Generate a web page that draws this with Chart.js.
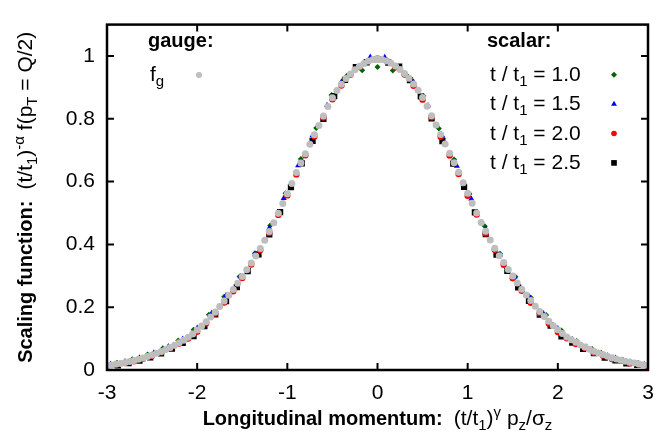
<!DOCTYPE html>
<html>
<head>
<meta charset="utf-8">
<script src="https://cdn.jsdelivr.net/npm/chart.js@4/dist/chart.umd.min.js"></script>
<style>
  html, body { margin: 0; padding: 0; background: #fff; }
  canvas { display: block; }
</style>
</head>
<body>
<canvas id="scalingChart" width="671" height="437"></canvas>
<script>
// --- Data ---
const xTicks = [-3, -2, -1, 0, 1, 2, 3];
const yTicks = [0, 0.2, 0.4, 0.6, 0.8, 1];

// gauge: f_g
const gaugeX = [-3.00, -2.95, -2.90, -2.85, -2.80, -2.75, -2.70, -2.65, -2.60, -2.55, -2.50, -2.45, -2.40, -2.35, -2.30, -2.25, -2.20, -2.15, -2.10, -2.05,
  -2.00, -1.95, -1.90, -1.85, -1.80, -1.75, -1.70, -1.65, -1.60, -1.55, -1.50, -1.45, -1.40, -1.35, -1.30, -1.25, -1.20, -1.15, -1.10, -1.05,
  -1.00, -0.95, -0.90, -0.85, -0.80, -0.75, -0.70, -0.65, -0.60, -0.55, -0.50, -0.45, -0.40, -0.35, -0.30, -0.25, -0.20, -0.15, -0.10, -0.05,
  0.00, 0.05, 0.10, 0.15, 0.20, 0.25, 0.30, 0.35, 0.40, 0.45, 0.50, 0.55, 0.60, 0.65, 0.70, 0.75, 0.80, 0.85, 0.90, 0.95,
  1.00, 1.05, 1.10, 1.15, 1.20, 1.25, 1.30, 1.35, 1.40, 1.45, 1.50, 1.55, 1.60, 1.65, 1.70, 1.75, 1.80, 1.85, 1.90, 1.95,
  2.00, 2.05, 2.10, 2.15, 2.20, 2.25, 2.30, 2.35, 2.40, 2.45, 2.50, 2.55, 2.60, 2.65, 2.70, 2.75, 2.80, 2.85, 2.90, 2.95, 3.00];
const gaugeY = [0.014, 0.016, 0.019, 0.021, 0.024, 0.027, 0.030, 0.034, 0.038, 0.043, 0.048, 0.053, 0.059, 0.065, 0.072, 0.079, 0.087, 0.095, 0.104, 0.115,
  0.127, 0.140, 0.154, 0.169, 0.185, 0.202, 0.220, 0.238, 0.256, 0.276, 0.298, 0.319, 0.341, 0.363, 0.387, 0.413, 0.441, 0.469, 0.499, 0.530,
  0.561, 0.594, 0.629, 0.659, 0.689, 0.719, 0.749, 0.779, 0.809, 0.839, 0.867, 0.890, 0.910, 0.928, 0.943, 0.956, 0.967, 0.976, 0.984, 0.989,
  0.991, 0.989, 0.984, 0.977, 0.968, 0.957, 0.944, 0.929, 0.911, 0.891, 0.868, 0.840, 0.810, 0.780, 0.750, 0.720, 0.690, 0.660, 0.630, 0.596,
  0.563, 0.531, 0.500, 0.470, 0.442, 0.414, 0.388, 0.364, 0.342, 0.320, 0.299, 0.277, 0.257, 0.239, 0.221, 0.203, 0.186, 0.170, 0.155, 0.141,
  0.128, 0.116, 0.105, 0.096, 0.088, 0.080, 0.073, 0.066, 0.060, 0.054, 0.049, 0.044, 0.039, 0.035, 0.031, 0.028, 0.025, 0.022, 0.019, 0.017, 0.015];

// scalar: t / t1 = 1.0
const s10X = [-2.89, -2.72, -2.55, -2.38, -2.21, -2.04, -1.87, -1.70, -1.53, -1.36, -1.19, -1.02, -0.85, -0.68, -0.51, -0.34, -0.17, 0,
  0.17, 0.34, 0.51, 0.68, 0.85, 1.02, 1.19, 1.36, 1.53, 1.70, 1.87, 2.04, 2.21, 2.38, 2.55, 2.72, 2.89];
const s10Y = [0.023, 0.034, 0.049, 0.069, 0.094, 0.128, 0.176, 0.233, 0.298, 0.372, 0.460, 0.563, 0.672, 0.771, 0.876, 0.936, 0.955, 0.965,
  0.954, 0.934, 0.873, 0.769, 0.670, 0.561, 0.458, 0.370, 0.297, 0.231, 0.175, 0.126, 0.092, 0.067, 0.047, 0.033, 0.022];

// scalar: t / t1 = 1.5
const s15X = [-2.96, -2.80, -2.64, -2.48, -2.32, -2.16, -2.00, -1.84, -1.68, -1.52, -1.36, -1.20, -1.04, -0.88, -0.72, -0.56, -0.40, -0.24, -0.08,
  0.08, 0.24, 0.40, 0.56, 0.72, 0.88, 1.04, 1.20, 1.36, 1.52, 1.68, 1.84, 2.00, 2.16, 2.32, 2.48, 2.64, 2.80, 2.96];
const s15Y = [0.019, 0.027, 0.039, 0.055, 0.075, 0.099, 0.134, 0.181, 0.237, 0.298, 0.368, 0.452, 0.547, 0.651, 0.747, 0.843, 0.918, 0.963, 0.997,
  0.996, 0.961, 0.917, 0.842, 0.745, 0.650, 0.545, 0.450, 0.367, 0.297, 0.235, 0.180, 0.132, 0.098, 0.073, 0.054, 0.038, 0.026, 0.018];

// scalar: t / t1 = 2.0
const s20X = [-3.0, -2.9, -2.8, -2.7, -2.6, -2.5, -2.4, -2.3, -2.2, -2.1, -2.0, -1.9, -1.8, -1.7, -1.6, -1.5, -1.4, -1.3, -1.2, -1.1,
  -1.0, -0.9, -0.8, -0.7, -0.6, -0.5, -0.4, -0.3, -0.2, -0.1, 0, 0.1, 0.2, 0.3, 0.4, 0.5, 0.6, 0.7, 0.8, 0.9,
  1.0, 1.1, 1.2, 1.3, 1.4, 1.5, 1.6, 1.7, 1.8, 1.9, 2.0, 2.1, 2.2, 2.3, 2.4, 2.5, 2.6, 2.7, 2.8, 2.9, 3.0];
const s20Y = [0.013, 0.017, 0.022, 0.028, 0.036, 0.045, 0.056, 0.069, 0.084, 0.100, 0.122, 0.149, 0.180, 0.215, 0.251, 0.293, 0.336, 0.382, 0.436, 0.494,
  0.556, 0.623, 0.684, 0.744, 0.804, 0.862, 0.906, 0.940, 0.965, 0.984, 0.992, 0.985, 0.964, 0.941, 0.905, 0.861, 0.805, 0.743, 0.683, 0.624,
  0.555, 0.495, 0.435, 0.383, 0.335, 0.292, 0.252, 0.214, 0.181, 0.148, 0.121, 0.101, 0.083, 0.070, 0.055, 0.046, 0.035, 0.029, 0.021, 0.017, 0.012];

// scalar: t / t1 = 2.5
const s25X = [-2.88, -2.76, -2.64, -2.52, -2.40, -2.28, -2.16, -2.04, -1.92, -1.80, -1.68, -1.56, -1.44, -1.32, -1.20, -1.08, -0.96, -0.84, -0.72, -0.60,
  -0.48, -0.36, -0.24, -0.12, 0, 0.12, 0.24, 0.36, 0.48, 0.60, 0.72, 0.84, 0.96, 1.08, 1.20, 1.32, 1.44, 1.56, 1.68, 1.80,
  1.92, 2.04, 2.16, 2.28, 2.40, 2.52, 2.64, 2.76, 2.88];
const s25Y = [0.015, 0.022, 0.030, 0.040, 0.053, 0.068, 0.086, 0.108, 0.140, 0.177, 0.219, 0.264, 0.315, 0.368, 0.432, 0.503, 0.582, 0.658, 0.730, 0.800,
  0.872, 0.924, 0.965, 0.980, 0.990, 0.979, 0.966, 0.923, 0.871, 0.801, 0.729, 0.657, 0.583, 0.502, 0.433, 0.367, 0.316, 0.263, 0.220, 0.176,
  0.141, 0.107, 0.087, 0.067, 0.054, 0.039, 0.031, 0.021, 0.016];

const FONT = "'Liberation Sans', Arial, Helvetica, sans-serif";
const GRAY = '#bebebe';
const GREEN = '#006400';
const BLUE = '#0000ff';
const RED = '#ff0000';
const BLACK = '#000000';

function pts(xs, ys) {
    return xs.map((x, i) => ({ x: x, y: ys[i] }));
}

// draw a run of text pieces (font, dy) one after another
function richWidth(ctx, parts) {
    let w = 0;
    parts.forEach(p => { ctx.font = p.font; w += ctx.measureText(p.t).width; });
    return w;
}
function drawRich(ctx, parts, x, y) {
    parts.forEach(p => {
        ctx.font = p.font;
        ctx.fillText(p.t, x, y + (p.dy || 0));
        x += ctx.measureText(p.t).width;
    });
    return x;
}

function marker(ctx, style, x, y, r, color) {
    ctx.save();
    ctx.fillStyle = color;
    ctx.beginPath();
    if (style === 'circle') {
        ctx.arc(x, y, r, 0, Math.PI * 2);
    } else if (style === 'triangle') {
        ctx.moveTo(x, y - r);
        ctx.lineTo(x + r * 0.866, y + r * 0.5);
        ctx.lineTo(x - r * 0.866, y + r * 0.5);
        ctx.closePath();
    } else if (style === 'rect') {
        const s = r * Math.SQRT1_2;
        ctx.rect(x - s, y - s, 2 * s, 2 * s);
    } else if (style === 'rectRot') {
        ctx.moveTo(x, y - r);
        ctx.lineTo(x + r, y);
        ctx.lineTo(x, y + r);
        ctx.lineTo(x - r, y);
        ctx.closePath();
    }
    ctx.fill();
    ctx.restore();
}

// frame, inward ticks, axis titles and the key
const decor = {
    id: 'decor',
    afterDraw(chart) {
        const ctx = chart.ctx;
        const a = chart.chartArea;
        const xs = chart.scales.x, ys = chart.scales.y;
        ctx.save();
        ctx.strokeStyle = '#000';

        ctx.lineWidth = 2;
        xTicks.forEach(v => {
            const px = xs.getPixelForValue(v);
            ctx.beginPath();
            ctx.moveTo(px, a.bottom); ctx.lineTo(px, a.bottom - 7);
            ctx.moveTo(px, a.top); ctx.lineTo(px, a.top + 7);
            ctx.stroke();
        });
        yTicks.forEach(v => {
            const py = ys.getPixelForValue(v);
            ctx.beginPath();
            ctx.moveTo(a.left, py); ctx.lineTo(a.left + 7, py);
            ctx.moveTo(a.right, py); ctx.lineTo(a.right - 7, py);
            ctx.stroke();
        });
        ctx.lineWidth = 2.5;
        ctx.strokeRect(a.left, a.top, a.right - a.left, a.bottom - a.top);

        ctx.fillStyle = '#000';
        ctx.textAlign = 'left';
        ctx.textBaseline = 'alphabetic';
        const B = 'bold 20px ' + FONT, R = '21px ' + FONT, S = '15px ' + FONT;

        // x title
        const xt = [
            { t: 'Longitudinal momentum:  ', font: B },
            { t: '(t/t', font: R }, { t: '1', font: S, dy: 5 }, { t: ')', font: R },
            { t: '\u03b3', font: S, dy: -8 }, { t: ' p', font: R }, { t: 'z', font: S, dy: 5 },
            { t: '/\u03c3', font: R }, { t: 'z', font: S, dy: 5 }
        ];
        const cx = (a.left + a.right) / 2;
        drawRich(ctx, xt, cx - richWidth(ctx, xt) / 2, 425);

        // y title
        const yt = [
            { t: 'Scaling function:  ', font: B },
            { t: '(t/t', font: R }, { t: '1', font: S, dy: 5 }, { t: ')', font: R },
            { t: '-\u03b1', font: S, dy: -8 }, { t: ' f(p', font: R }, { t: 'T', font: S, dy: 5 },
            { t: ' = Q/2)', font: R }
        ];
        ctx.save();
        ctx.translate(32, (a.top + a.bottom) / 2);
        ctx.rotate(-Math.PI / 2);
        drawRich(ctx, yt, -richWidth(ctx, yt) / 2, 0);
        ctx.restore();

        // key: gauge
        ctx.font = B;
        ctx.fillText('gauge:', 148, 47);
        drawRich(ctx, [{ t: 'f', font: R }, { t: 'g', font: S, dy: 5 }], 150, 81);
        marker(ctx, 'circle', 199, 75, 3, GRAY);

        // key: scalar
        ctx.font = B;
        ctx.fillText('scalar:', 487, 47);
        const rows = [
            { v: '1.0', s: 'rectRot', r: 3, c: GREEN },
            { v: '1.5', s: 'triangle', r: 3.4, c: BLUE },
            { v: '2.0', s: 'circle', r: 2.8, c: RED },
            { v: '2.5', s: 'rect', r: 4, c: BLACK }
        ];
        rows.forEach((row, i) => {
            const by = 81 + i * 29.4;
            drawRich(ctx, [{ t: 't / t', font: R }, { t: '1', font: S, dy: 5 }, { t: ' = ' + row.v, font: R }], 490, by);
            marker(ctx, row.s, 614, by - 6.3, row.r, row.c);
        });
        ctx.restore();
    }
};

function series(label, xs, ys, style, r, color) {
    return {
        label: label,
        data: pts(xs, ys),
        pointStyle: style,
        pointRadius: r,
        pointHoverRadius: r,
        pointBorderWidth: 0,
        pointBackgroundColor: color,
        pointBorderColor: color,
        showLine: false
    };
}

new Chart(document.getElementById('scalingChart'), {
    type: 'scatter',
    data: {
        datasets: [
            series('f_g', gaugeX, gaugeY, 'circle', 3.5, GRAY),
            series('t/t1 = 2.0', s20X, s20Y, 'circle', 3.2, RED),
            series('t/t1 = 2.5', s25X, s25Y, 'rect', 4.4, BLACK),
            series('t/t1 = 1.5', s15X, s15Y, 'triangle', 3.5, BLUE),
            series('t/t1 = 1.0', s10X, s10Y, 'rectRot', 3, GREEN)
        ]
    },
    options: {
        responsive: false,
        animation: false,
        devicePixelRatio: 1,
        layout: { padding: { top: 7, right: 23, left: 0, bottom: 0 } },
        plugins: {
            legend: { display: false },
            tooltip: { enabled: false },
            title: { display: false }
        },
        scales: {
            x: {
                type: 'linear',
                min: -3,
                max: 3,
                afterBuildTicks: s => { s.ticks = xTicks.map(v => ({ value: v })); },
                afterFit: s => { s.height = 67; },
                grid: { display: false, drawTicks: false },
                border: { display: false },
                ticks: { color: '#000', padding: 11, font: { family: FONT, size: 21 }, maxRotation: 0, callback: v => String(v) }
            },
            y: {
                type: 'linear',
                min: 0,
                max: 1.1,
                afterBuildTicks: s => { s.ticks = yTicks.map(v => ({ value: v })); },
                afterFit: s => { s.width = 107; },
                grid: { display: false, drawTicks: false },
                border: { display: false },
                ticks: { color: '#000', padding: 12, font: { family: FONT, size: 21 }, callback: v => String(v) }
            }
        }
    },
    plugins: [decor]
});
</script>
</body>
</html>
